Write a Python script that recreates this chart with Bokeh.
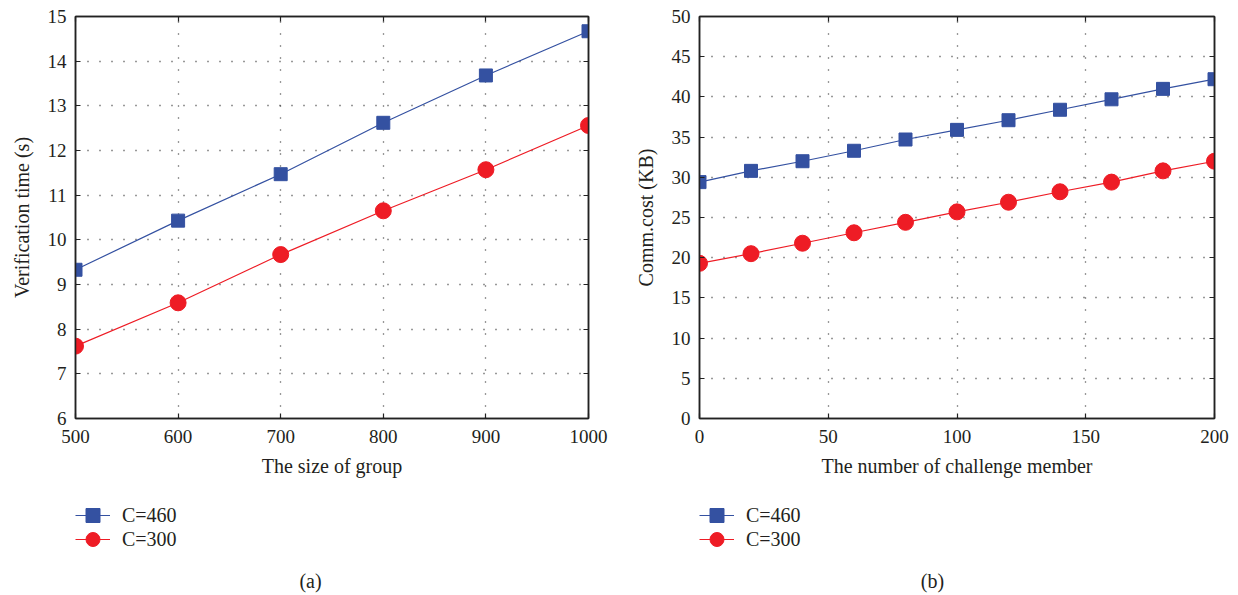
from bokeh.plotting import figure
from bokeh.models import (LinearAxis, Range1d, Legend, LegendItem, Label, FixedTicker,
                          CustomLabelingPolicy)
from bokeh.layouts import row, column
from bokeh.embed import file_html
from bokeh.resources import INLINE

# ---------------- data ----------------
group_size = [500, 600, 700, 800, 900, 1000]
verif_c460 = [9.33, 10.43, 11.47, 12.62, 13.68, 14.67]
verif_c300 = [7.62, 8.59, 9.67, 10.65, 11.57, 12.56]

challenge = [0, 20, 40, 60, 80, 100, 120, 140, 160, 180, 200]
comm_c460 = [29.4, 30.8, 32.0, 33.3, 34.7, 35.9, 37.1, 38.4, 39.7, 41.0, 42.2]
comm_c300 = [19.3, 20.5, 21.8, 23.1, 24.4, 25.7, 26.9, 28.2, 29.4, 30.8, 32.0]

series_names = ["C=460", "C=300"]
x_ticks_a = [500, 600, 700, 800, 900, 1000]
y_ticks_a = [6, 7, 8, 9, 10, 11, 12, 13, 14, 15]
x_ticks_b = [0, 50, 100, 150, 200]
y_ticks_b = [0, 5, 10, 15, 20, 25, 30, 35, 40, 45, 50]

BLUE = "#3451a1"
RED = "#ee1c25"
TXT = "#231f20"
FONT = "Liberation Serif"

W = 619
TOP_H = 485
BOT_H = 110


def style_series(p, x, y1, y2):
    l1 = p.line(x, y1, line_color=BLUE, line_width=1.2)
    s1 = p.scatter(x, y1, marker="square", size=13, fill_color=BLUE, line_color=BLUE)
    l2 = p.line(x, y2, line_color=RED, line_width=1.2)
    s2 = p.scatter(x, y2, marker="circle", size=16, fill_color=RED, line_color=RED)
    return l1, s1, l2, s2


def panel(x, y1, y2, xr, yr, xt, yt, xlabel, ylabel, bl, br, ylab_standoff):
    p = figure(width=W, height=TOP_H, output_backend="svg", toolbar_location=None,
               x_range=Range1d(*xr), y_range=Range1d(*yr),
               min_border_left=bl, min_border_right=br, min_border_top=14,
               min_border_bottom=TOP_H - 14 - 404, x_axis_location=None, y_axis_location=None)
    p.background_fill_color = "white"
    p.border_fill_color = "white"
    p.outline_line_color = "#222222"
    p.outline_line_width = 1.5

    for loc, dim in (("below", "x"), ("left", "y"), ("above", "x"), ("right", "y")):
        ax = LinearAxis()
        ax.ticker = FixedTicker(ticks=xt if dim == "x" else yt)
        ax.axis_line_color = "#222222"
        ax.axis_line_width = 1.5
        ax.major_tick_in = 5
        ax.major_tick_out = 0
        ax.major_tick_line_color = "#222222"
        ax.major_tick_line_width = 1.2
        ax.minor_tick_line_color = None
        ax.major_label_text_font = FONT
        ax.major_label_text_font_size = "19px"
        ax.major_label_text_color = TXT
        if loc in ("above", "right"):
            ax.major_label_policy = CustomLabelingPolicy(code="return []")
            ax.major_label_standoff = 0
        else:
            ax.axis_label = xlabel if dim == "x" else ylabel
            ax.axis_label_text_font = FONT
            ax.axis_label_text_font_size = "20px"
            ax.axis_label_text_font_style = "normal"
            ax.axis_label_text_color = TXT
            ax.major_label_standoff = 11 if dim == "x" else 9
            ax.axis_label_standoff = 9 if dim == "x" else ylab_standoff
        p.add_layout(ax, loc)

    p.xgrid.ticker = FixedTicker(ticks=xt)
    p.ygrid.ticker = FixedTicker(ticks=yt)
    for g in (p.xgrid, p.ygrid):
        g.grid_line_color = "#333333"
        g.grid_line_dash = "1 11"
        g.grid_line_width = 1.3

    style_series(p, x, y1, y2)
    return p


def one_legend(label, renderers, loc):
    leg = Legend(items=[LegendItem(label=label, renderers=renderers)],
                 location=loc, orientation="vertical")
    leg.border_line_color = None
    leg.background_fill_alpha = 0
    leg.padding = 0
    leg.margin = 0
    leg.spacing = 0
    leg.glyph_width = 35
    leg.glyph_height = 36
    leg.label_height = 20
    leg.label_standoff = 12
    leg.label_text_font = FONT
    leg.label_text_font_size = "20px"
    leg.label_text_color = TXT
    return leg


def legend_box(x, y1, y2, caption, leg_x, cap_x):
    # bottom strip: legend + caption; series drawn off-range so only the legend shows them
    q = figure(width=W, height=BOT_H, output_backend="svg", toolbar_location=None,
               x_range=Range1d(-1e6, -1e6 + 1), y_range=Range1d(-1e6, -1e6 + 1),
               min_border=0, x_axis_location=None, y_axis_location=None)
    q.outline_line_color = None
    q.xgrid.visible = False
    q.ygrid.visible = False
    l1, s1, l2, s2 = style_series(q, x, y1, y2)
    q.add_layout(one_legend(series_names[0], [l1, s1], (leg_x, 62)), "center")
    q.add_layout(one_legend(series_names[1], [l2, s2], (leg_x, 38)), "center")
    q.add_layout(Label(x=cap_x, y=15, x_units="screen", y_units="screen", text=caption,
                       text_font=FONT, text_font_size="20px", text_color=TXT,
                       text_align="center", text_baseline="middle"))
    return q


pa = panel(group_size, verif_c460, verif_c300, (500, 1000), (6, 15), x_ticks_a, y_ticks_a,
           "The size of group", "Verification time (s)", 75, W - 75 - 513, 12)
pb = panel(challenge, comm_c460, comm_c300, (0, 200), (0, 50), x_ticks_b, y_ticks_b,
           "The number of challenge member", "Comm.cost (KB)", 80, W - 80 - 515, 12)
la = legend_box(group_size, verif_c460, verif_c300, "(a)", 75, 310)
lb = legend_box(challenge, comm_c460, comm_c300, "(b)", 80, 313)

layout = column(row(pa, pb), row(la, lb))
open("out.html", "w").write(file_html(layout, INLINE))
